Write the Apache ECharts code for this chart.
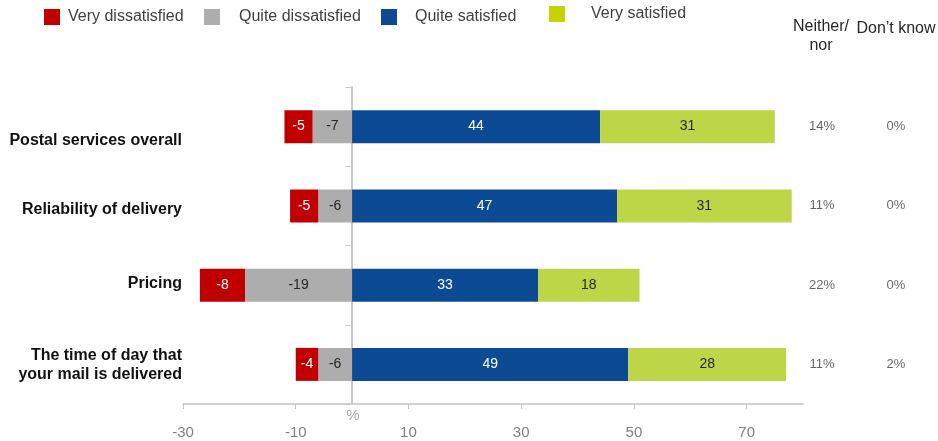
<!DOCTYPE html>
<html>
<head>
<meta charset="utf-8">
<script src="https://cdn.jsdelivr.net/npm/echarts@6/dist/echarts.min.js"></script>
<style>html,body{margin:0;padding:0;background:#fff}#c{width:938px;height:441px}</style>
</head>
<body>
<div id="c"></div>
<script>
// ---- data ----
const categories = ['Postal services overall', 'Reliability of delivery', 'Pricing', 'The time of day that\nyour mail is delivered'];
const veryDissatisfied = [-5, -5, -8, -4];
const quiteDissatisfied = [-7, -6, -19, -6];
const quiteSatisfied = [44, 47, 33, 49];
const verySatisfied = [31, 31, 18, 28];
const neitherNor = [14, 11, 22, 11];
const dontKnow = [0, 0, 0, 2];
const xTickValues = [-30, -10, 10, 30, 50, 70];
const columnHeads = ['Neither/\nnor', 'Don\u2019t know'];

// ---- styling ----
const FONT = '"Liberation Sans", Arial, sans-serif';
const C_RED = '#C00000', C_GRAY = '#ADADAD', C_BLUE = '#0D4A94', C_GREEN = '#BDD647', C_GREEN_LEG = '#C6D200';
const labelShift = [14, 4, -2, 1];
const rich = {};
labelShift.forEach((s, i) => {
  rich['s' + i] = { padding: s >= 0 ? [2 * s, 0, 0, 0] : [0, 0, -2 * s, 0], lineHeight: 19,
    fontFamily: FONT, fontSize: 16, fontWeight: 'bold', color: '#111' };
});

const chart = echarts.init(document.getElementById('c'));

function legendAt(name, left, top, gap, color) {
  const item = { name: name };
  if (color) item.itemStyle = { color: color };
  return {
    data: [item], left: left, top: top, padding: 0,
    itemWidth: 16, itemHeight: 16, icon: 'rect', selectedMode: false,
    textStyle: { fontFamily: FONT, fontSize: 16, color: '#404040', padding: [0, 0, 0, gap] }
  };
}

function barSeries(name, data, color, textColor) {
  return {
    name: name, type: 'bar', stack: 'total', data: data, barWidth: 33,
    xAxisIndex: 0, yAxisIndex: 0,
    itemStyle: { color: color },
    label: { show: true, position: 'inside', color: textColor, fontFamily: FONT, fontSize: 14 },
    emphasis: { disabled: true }
  };
}

function colSeries(colIndex, values) {
  return {
    type: 'scatter', xAxisIndex: 1, yAxisIndex: 1, symbolSize: 1,
    itemStyle: { color: 'rgba(0,0,0,0)' },
    data: values.map((v, i) => [colIndex, categories[i], v]),
    label: { show: true, position: 'inside', formatter: p => p.value[2] + '%',
      color: '#404040', fontFamily: FONT, fontSize: 13 },
    emphasis: { disabled: true }
  };
}

const option = {
  animation: false,
  legend: [
    legendAt('Very dissatisfied', 44, 9, 3),
    legendAt('Quite dissatisfied', 204, 9, 14),
    legendAt('Quite satisfied', 381, 9, 13),
    legendAt('Very satisfied', 549, 6, 21, C_GREEN_LEG)
  ],
  grid: [
    { left: 183, right: 135, top: 87, bottom: 37, containLabel: false, outerBoundsMode: 'none' },
    { left: 785, right: 5, top: 87, bottom: 37, containLabel: false, outerBoundsMode: 'none' }
  ],
  xAxis: [
    {
      type: 'value', gridIndex: 0, min: -30, max: 80, interval: 20,
      splitLine: { show: false },
      axisLine: { show: true, lineStyle: { color: '#C4C4C4', width: 1.5 } },
      axisTick: { show: true, length: 5, customValues: xTickValues, lineStyle: { color: '#C4C4C4' } },
      axisLabel: { customValues: xTickValues, margin: 21, color: '#7F7F7F', fontFamily: FONT, fontSize: 15 }
    },
    { type: 'category', gridIndex: 1, data: [0, 1], show: false }
  ],
  yAxis: [
    {
      type: 'category', gridIndex: 0, inverse: true, data: categories,
      axisLine: { show: true, onZero: true, lineStyle: { color: '#C8C8C8', width: 2 } },
      axisTick: { show: true, length: 7, lineStyle: { color: '#C8C8C8' } },
      axisLabel: { margin: 1, color: '#111', fontFamily: FONT, fontSize: 16, fontWeight: 'bold', lineHeight: 19,
        formatter: (v, i) => '{s' + i + '|' + v + '}', rich: rich }
    },
    { type: 'category', gridIndex: 1, inverse: true, data: categories, show: false }
  ],
  graphic: [
    { type: 'text', x: 353, y: 416, style: { text: '%', font: '15px ' + FONT, fill: '#A6A6A6', align: 'center', verticalAlign: 'middle' } },
    { type: 'text', x: 821, y: 36, style: { text: columnHeads[0], font: '16px ' + FONT, lineHeight: 19, fill: '#262626', align: 'center', verticalAlign: 'middle' } },
    { type: 'text', x: 896, y: 29, style: { text: columnHeads[1], font: '16px ' + FONT, fill: '#262626', align: 'center', verticalAlign: 'middle' } }
  ],
  series: [
    barSeries('Quite dissatisfied', quiteDissatisfied, C_GRAY, '#262626'),
    barSeries('Very dissatisfied', veryDissatisfied, C_RED, '#ffffff'),
    barSeries('Quite satisfied', quiteSatisfied, C_BLUE, '#ffffff'),
    barSeries('Very satisfied', verySatisfied, C_GREEN, '#262626'),
    colSeries(0, neitherNor),
    colSeries(1, dontKnow)
  ]
};
chart.setOption(option);
</script>
</body>
</html>
